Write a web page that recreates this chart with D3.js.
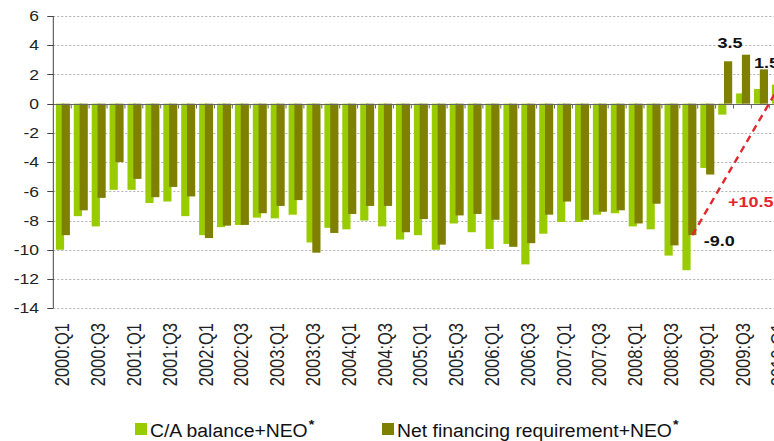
<!DOCTYPE html>
<html>
<head>
<meta charset="utf-8">
<script src="https://cdn.jsdelivr.net/npm/d3@7"></script>
<style>
  body { margin: 0; background: #fff; }
  svg { display: block; font-family: "Liberation Sans", Arial, sans-serif; }
</style>
</head>
<body>
<svg></svg>
<script>
var svgWidth = 774, svgHeight = 441;

// quarters 2000:Q1 .. 2010:Q1
var quarters = [];
for (var yr = 2000; yr <= 2010; yr++) {
  for (var q = 1; q <= 4; q++) {
    if (yr == 2010 && q > 1) break;
    quarters.push(yr + ':Q' + q);
  }
}
var seriesNames = ['C/A balance+NEO', 'Net financing requirement+NEO'];
var caBalance = [
  -10.0, -7.7, -8.4, -5.9, -5.9, -6.8, -6.7, -7.7, -9.0, -8.45,
  -8.3, -7.8, -7.85, -7.6, -9.5, -8.5, -8.6, -8.0, -8.4, -9.3,
  -9.0, -10.0, -8.2, -8.8, -9.95, -9.6, -11.0, -8.9, -8.1, -8.1,
  -7.6, -7.5, -8.4, -8.6, -10.4, -11.4, -4.4, -0.75, 0.7, 1.0,
  1.3
];
var netFinancing = [
  -9.0, -7.3, -6.45, -4.0, -5.15, -6.4, -5.7, -6.35, -9.2, -8.35,
  -8.3, -7.5, -7.0, -6.6, -10.2, -8.85, -7.55, -7.0, -7.0, -8.8,
  -7.9, -9.65, -7.65, -7.55, -7.95, -9.8, -9.55, -7.6, -6.7, -7.95,
  -7.4, -7.3, -8.2, -6.85, -9.7, -9.0, -4.85, 2.9, 3.35, 2.35,
  1.5
];
var yTicks = [6, 4, 2, 0, -2, -4, -6, -8, -10, -12, -14];
// dashed arrow from the trough to the latest value
var swingFrom = { q: '2008:Q4', v: -9.0 }, swingTo = { q: '2010:Q1', v: 1.5 };

var colors = ['#99cc00', '#808000'];
var stretch = 'scale(1.2,1)';

var svg = d3.select('svg')
    .attr('width', svgWidth)
    .attr('height', svgHeight);

var left = 53.3, step = 17.9;
var x = d3.scaleBand()
    .domain(quarters)
    .range([left, left + step * quarters.length])
    .padding(0);

var y = d3.scaleLinear()
    .domain([-14, 6])
    .range([308.2, 16]);

var barW = 8.2, offs = [2.6, 8.4];

// grid
svg.append('g').selectAll('line')
    .data(yTicks.filter(function(d){ return d != 0; }))
    .enter().append('line')
    .attr('x1', left).attr('x2', svgWidth)
    .attr('y1', function(d){ return Math.round(y(d)) + 0.5; })
    .attr('y2', function(d){ return Math.round(y(d)) + 0.5; })
    .attr('stroke', '#b0b0b0')
    .attr('stroke-dasharray', '2,2')
    .attr('stroke-width', 1);

// bars
var data = [caBalance, netFinancing];
data.forEach(function(vals, s) {
  svg.append('g').selectAll('rect')
    .data(vals)
    .enter().append('rect')
    .attr('x', function(d, i){ return x(quarters[i]) + offs[s]; })
    .attr('width', barW)
    .attr('y', function(d){ return y(Math.max(0, d)); })
    .attr('height', function(d){ return Math.abs(y(d) - y(0)); })
    .attr('fill', colors[s]);
});

// zero axis with category ticks
var y0 = Math.round(y(0)) + 0.5;
svg.append('line')
    .attr('x1', left).attr('x2', svgWidth)
    .attr('y1', y0).attr('y2', y0)
    .attr('stroke', '#666').attr('stroke-width', 1);
svg.append('g').selectAll('line')
    .data(quarters)
    .enter().append('line')
    .attr('x1', function(d){ return x(d) + step; })
    .attr('x2', function(d){ return x(d) + step; })
    .attr('y1', y0).attr('y2', y0 + 4)
    .attr('stroke', '#666');

// y axis
var yAxisG = svg.append('g');
yAxisG.append('line')
    .attr('x1', left).attr('x2', left)
    .attr('y1', y(6)).attr('y2', y(-14))
    .attr('stroke', '#444');
yAxisG.selectAll('line.tk')
    .data(yTicks).enter().append('line')
    .attr('class', 'tk')
    .attr('x1', left - 6).attr('x2', left)
    .attr('y1', function(d){ return Math.round(y(d)) + 0.5; })
    .attr('y2', function(d){ return Math.round(y(d)) + 0.5; })
    .attr('stroke', '#444');
yAxisG.selectAll('text')
    .data(yTicks).enter().append('text')
    .attr('transform', function(d){ return 'translate(39,' + y(d) + ') ' + stretch; })
    .attr('dy', '0.36em')
    .attr('text-anchor', 'end')
    .attr('font-size', '14.6px')
    .attr('fill', '#222')
    .text(function(d){ return d; });

// x labels, every second quarter
svg.append('g').selectAll('text')
    .data(quarters.filter(function(d, i){ return i % 2 == 0; }))
    .enter().append('text')
    .attr('transform', function(d){
      return 'translate(' + (x(d) + step / 2) + ',323) ' + stretch + ' rotate(-90)';
    })
    .attr('dy', '0.36em')
    .attr('text-anchor', 'end')
    .attr('font-size', '16.5px')
    .attr('fill', '#222')
    .text(function(d){ return d; });

// swing line + labels
var xs = function(p){ return x(p.q) + offs[1] + barW / 2; };
svg.append('line')
    .attr('x1', xs(swingFrom)).attr('y1', y(swingFrom.v))
    .attr('x2', xs(swingTo)).attr('y2', y(swingTo.v))
    .attr('stroke', '#e3262b')
    .attr('stroke-width', 2.4)
    .attr('stroke-dasharray', '7,5');

var notes = [
  { q: '2009:Q2', v: 3.5, dx: 2, dy: -5, text: '3.5', color: '#111' },
  { q: '2009:Q4', v: 1.5, dx: 2.6, dy: -14, text: '1.5', color: '#111' },
  { q: '2009:Q1', v: -9.0, dx: 6, dy: 11, text: '-9.0', color: '#111' },
  { q: '2009:Q2', v: -7.1, dx: 12.5, dy: 0, text: '+10.5', color: '#e3262b' }
];
svg.append('g').selectAll('text')
    .data(notes).enter().append('text')
    .attr('transform', function(d){
      return 'translate(' + (x(d.q) + d.dx) + ',' + (y(d.v) + d.dy) + ') ' + stretch;
    })
    .attr('font-size', '15px')
    .attr('font-weight', 'bold')
    .attr('fill', function(d){ return d.color; })
    .text(function(d){ return d.text; });

// legend
var legendX = [135, 382];
var leg = svg.append('g').selectAll('g')
    .data(seriesNames).enter().append('g')
    .attr('transform', function(d, i){ return 'translate(' + legendX[i] + ',423)'; });
leg.append('rect')
    .attr('width', 12).attr('height', 12)
    .attr('fill', function(d, i){ return colors[i]; });
leg.append('text')
    .attr('transform', 'translate(15,13.5) scale(1.1,1)')
    .attr('font-size', '17.6px')
    .attr('fill', '#111')
    .text(function(d){ return d; })
    .append('tspan')
    .attr('dy', '-0.55em')
    .attr('dx', '1')
    .attr('font-size', '13px')
    .attr('font-weight', 'bold')
    .text('*');
</script>
</body>
</html>
